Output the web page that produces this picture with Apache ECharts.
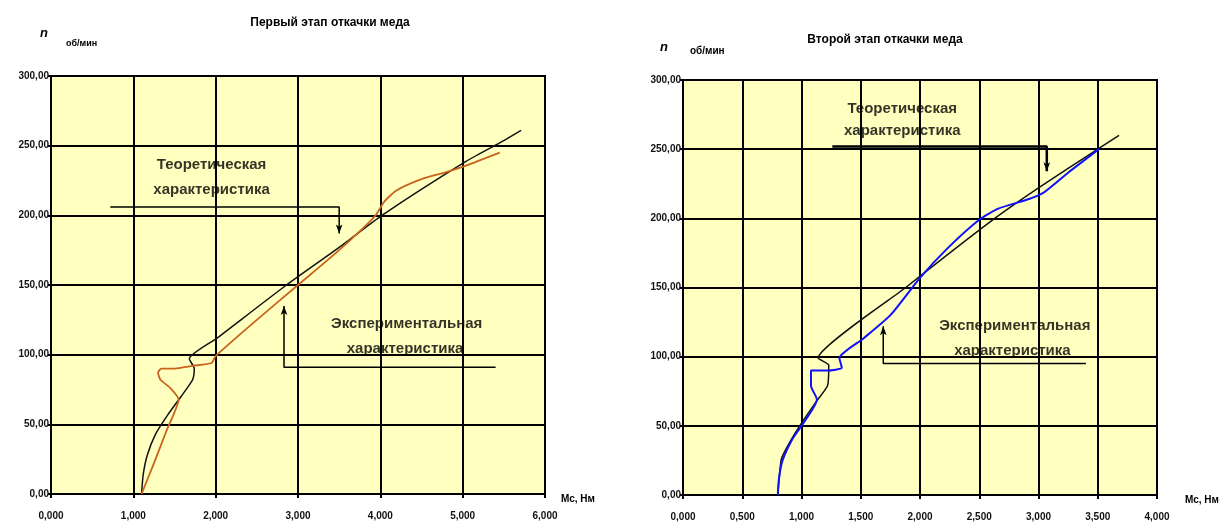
<!DOCTYPE html>
<html><head><meta charset="utf-8">
<script src="https://cdn.jsdelivr.net/npm/echarts@6/dist/echarts.min.js"></script>
<style>html,body{margin:0;padding:0;background:#fff}#c{width:1223px;height:527px}</style>
</head><body><div id="c"></div>
<script>
// ---- data ----
const titleLeft = 'Первый этап откачки меда';
const titleRight = 'Второй этап откачки меда';
const xTicksLeft = ['0,000','1,000','2,000','3,000','4,000','5,000','6,000'];
const xTicksRight = ['0,000','0,500','1,000','1,500','2,000','2,500','3,000','3,500','4,000'];
const yTicks = ['0,00','50,00','100,00','150,00','200,00','250,00','300,00'];
const xName = 'Мс, Нм';
const yNameMain = 'n';
const yNameUnit = 'об/мин';
const labTheo = ['Теоретическая', 'характеристика'];
const labExp = ['Экспериментальная', 'характеристика'];

// left chart (Mc, n)
const theoLeft = [[1.10,0],[1.12,14],[1.17,28],[1.27,43],[1.42,57],[1.58,70],[1.72,82],[1.74,90],[1.68,97],[2.02,112],[2.86,150],[3.50,177],[4.02,200],[5.02,238],[5.45,252],[5.71,261]];
const expLeft = [[1.10,0],[1.25,22],[1.40,45],[1.55,68],[1.45,76],[1.33,82],[1.30,87],[1.34,90],[1.50,90],[1.72,92],[1.95,94],[2.00,99],[2.50,125],[3.00,150],[3.50,175],[3.93,199],[4.05,210],[4.20,218],[4.50,226],[4.80,231],[5.10,237],[5.45,245]];
// right chart
const theoRight = [[0.80,0],[0.83,26],[0.90,38],[1.00,52],[1.12,67],[1.22,79],[1.23,94],[1.14,99],[1.88,150],[2.60,198],[3.00,222],[3.50,250],[3.68,260]];
const expRight = [[0.80,0],[0.81,12],[0.84,25],[0.92,40],[1.00,50],[1.13,69],[1.08,79],[1.08,90],[1.22,90],[1.34,92],[1.32,99],[1.52,113],[1.75,130],[2.00,157],[2.24,179],[2.50,199],[2.66,207],[2.92,214],[3.05,219],[3.25,233],[3.51,250]];

// annotation leaders and label anchors (data units)
const leadTheoLeft = [[0.72,206],[3.50,206],[3.50,187]];
const leadExpLeft = [[2.83,135],[2.83,91],[5.40,91]];
const leadTheoRight = [[1.26,252],[3.07,252],[3.07,234]];
const leadExpRight = [[1.69,122],[1.69,95],[3.40,95]];
const txtTheoLeft = [[1.95,236],[1.95,218]];
const txtExpLeft = [[4.32,122],[4.30,104]];
const txtTheoRight = [[1.85,279],[1.85,263]];
const txtExpRight = [[2.80,122],[2.78,104]];

// ---- chart ----
const chart = echarts.init(document.getElementById('c'));
const FONT = '"Liberation Sans", Arial, sans-serif';
const BG = '#ffffbf';

function xAxis(idx, max, interval, ticks, gap){
  return {
    type:'value', gridIndex:idx, min:0, max:max, interval:interval,
    name:xName, nameLocation:'end', nameGap:gap,
    nameTextStyle:{fontFamily:FONT, fontSize:10, fontWeight:'bold', color:'#000', verticalAlign:'top'},
    axisLine:{lineStyle:{color:'#000', width:2}},
    axisTick:{show:true, length:4, lineStyle:{color:'#000', width:2}},
    splitLine:{show:true, lineStyle:{color:'#000', width:2}},
    axisLabel:{fontFamily:FONT, fontSize:10, fontWeight:'bold', color:'#111', margin:17,
      formatter:v=>ticks[Math.round(v/interval)]}
  };
}
function yAxis(idx){
  return {
    type:'value', gridIndex:idx, min:0, max:300, interval:50,
    axisLine:{lineStyle:{color:'#000', width:2}},
    axisTick:{show:true, length:3, lineStyle:{color:'#000', width:2}},
    splitLine:{show:true, lineStyle:{color:'#000', width:2}},
    axisLabel:{fontFamily:FONT, fontSize:10, fontWeight:'bold', color:'#111', margin:2,
      formatter:v=>yTicks[Math.round(v/50)]}
  };
}
function lineSeries(idx, data, color, width, smooth){
  return {type:'line', xAxisIndex:idx, yAxisIndex:idx, data:data, symbol:'none', smooth:smooth||false,
    lineStyle:{color:color, width:width}, silent:true, animation:false, z:5};
}
function leader(idx, pts, arrowAt, rot, w){
  const data = pts.map((p,i)=> i===arrowAt ?
    {value:p, symbol:'arrow', symbolSize:[5,9], symbolRotate:rot, itemStyle:{color:'#000'}} :
    {value:p, symbol:'none'});
  return {type:'line', xAxisIndex:idx, yAxisIndex:idx, data:data, showSymbol:true, symbol:'none',
    lineStyle:{color:'#000', width:w||1.5}, silent:true, animation:false, z:6};
}
function labels(idx, pts, texts){
  return {type:'scatter', xAxisIndex:idx, yAxisIndex:idx, symbolSize:1,
    itemStyle:{color:'rgba(0,0,0,0)'}, silent:true, animation:false, z:7,
    data:pts.map((p,i)=>({value:p, label:{show:true, position:'inside', formatter:texts[i],
      fontFamily:FONT, fontSize:15, fontWeight:'bold', color:'#000'}}))};
}

chart.setOption({
  animation:false,
  backgroundColor:'#fff',
  title:[
    {text:titleLeft, left:325, top:12, textAlign:'center', textStyle:{fontFamily:FONT, fontSize:12, fontWeight:'bold', color:'#000'}},
    {text:titleRight, left:880, top:29, textAlign:'center', textStyle:{fontFamily:FONT, fontSize:12, fontWeight:'bold', color:'#000'}}
  ],
  graphic:[
    {type:'text', left:40, top:27, style:{text:yNameMain, font:'italic bold 13px '+FONT, fill:'#000'}},
    {type:'text', left:66, top:39, style:{text:yNameUnit, font:'bold 9px '+FONT, fill:'#000'}},
    {type:'text', left:660, top:41, style:{text:yNameMain, font:'italic bold 13px '+FONT, fill:'#000'}},
    {type:'text', left:690, top:46, style:{text:yNameUnit, font:'bold 10px '+FONT, fill:'#000'}}
  ],
  grid:[
    {left:51, top:76, width:494, height:418, show:true, backgroundColor:BG, borderColor:'#000', borderWidth:2},
    {left:683, top:80, width:474, height:415, show:true, backgroundColor:BG, borderColor:'#000', borderWidth:2}
  ],
  xAxis:[xAxis(0,6,1,xTicksLeft,16), xAxis(1,4,0.5,xTicksRight,28)],
  yAxis:[yAxis(0), yAxis(1)],
  series:[
    lineSeries(0, theoLeft, '#111', 1.5, 0.2),
    lineSeries(0, expLeft, '#c8641e', 1.8, 0.2),
    leader(0, leadTheoLeft, 2, 180),
    leader(0, leadExpLeft, 0, 0),
    labels(0, txtTheoLeft, labTheo),
    labels(0, txtExpLeft, labExp),
    lineSeries(1, theoRight, '#111', 1.5, 0.15),
    lineSeries(1, expRight, '#1010ff', 2, 0.2),
    leader(1, leadTheoRight, 2, 180, 2.5),
    leader(1, leadExpRight, 0, 0),
    labels(1, txtTheoRight, labTheo),
    labels(1, txtExpRight, labExp)
  ]
});
</script></body></html>
